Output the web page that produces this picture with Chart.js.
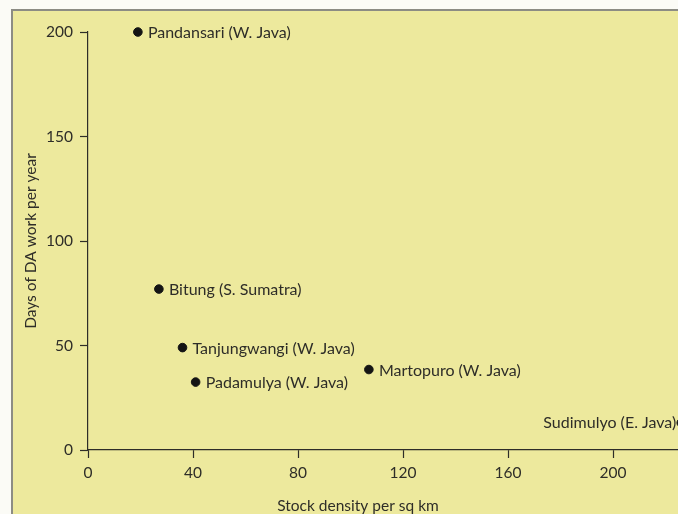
<!DOCTYPE html>
<html lang="en">
<head>
  <meta charset="UTF-8">
  <title>Days of DA work vs stock density</title>
  <script src="https://cdn.jsdelivr.net/npm/chart.js"></script>
  <style>
    html, body {
      margin: 0;
      padding: 0;
      background: #fbfbf6;
      width: 678px;
      height: 514px;
      overflow: hidden;
    }

    .page {
      position: absolute;
      left: 11px;
      top: 9px;
      width: 700px;
      height: 520px;
      background: #ede99d;
      border-left: 2px solid #8c8c84;
      border-top: 2px solid #8c8c84;
    }

    canvas {
      position: absolute;
      left: 0;
      top: 0;
    }
  </style>
</head>
<body>
  <div class="page"></div>
  <canvas id="scatter" width="760" height="514"></canvas>

  <script>
    const villages = ['Pandansari (W. Java)', 'Bitung (S. Sumatra)', 'Tanjungwangi (W. Java)',
                      'Padamulya (W. Java)', 'Martopuro (W. Java)', 'Sudimulyo (E. Java)'];
    const stockDensity = [19, 27, 36, 41, 107, 226];
    const daysWorked = [200, 77, 49, 32.5, 38.5, 13];
    const xTicks = [0, 40, 80, 120, 160, 200, 240];
    const yTicks = [0, 50, 100, 150, 200];

    const ink = '#2e2d28';
    const fontFamily = 'Lato, "Open Sans", sans-serif';

    // labels that sit to the left of their dot
    const labelLeft = ['Sudimulyo (E. Java)'];

    const pointLabels = {
      id: 'pointLabels',
      afterDatasetsDraw(chart) {
        const c = chart.ctx;
        const meta = chart.getDatasetMeta(0);
        c.save();
        c.fillStyle = ink;
        c.font = '16px ' + fontFamily;
        c.textBaseline = 'middle';
        meta.data.forEach((pt, i) => {
          const name = villages[i];
          if (labelLeft.includes(name)) {
            c.textAlign = 'right';
            c.fillText(name, pt.x - 5, pt.y);
          } else {
            c.textAlign = 'left';
            c.fillText(name, pt.x + 10, pt.y + 1);
          }
        });

        // axis titles
        const area = chart.chartArea;
        c.font = '15.5px ' + fontFamily;
        c.textAlign = 'center';
        c.fillText('Stock density per sq km', 358, 506);
        c.translate(31, (area.top + area.bottom) / 2);
        c.rotate(-Math.PI / 2);
        c.fillText('Days of DA work per year', 0, 0);
        c.restore();
      }
    };

    const tickFont = { family: fontFamily, size: 15.5 };

    new Chart(document.getElementById('scatter').getContext('2d'), {
      type: 'scatter',
      data: {
        datasets: [{
          data: stockDensity.map((x, i) => ({ x: x, y: daysWorked[i] })),
          backgroundColor: '#141414',
          borderColor: '#141414',
          pointRadius: 4.3,
          pointHoverRadius: 4.3,
          clip: false
        }]
      },
      options: {
        responsive: false,
        animation: false,
        layout: { padding: { top: 32, right: 42, bottom: 0, left: 0 } },
        plugins: {
          legend: { display: false },
          tooltip: { enabled: false }
        },
        scales: {
          x: {
            type: 'linear',
            min: 0,
            max: 240,
            afterFit: s => { s.height = 64; },
            afterBuildTicks: s => { s.ticks = xTicks.map(v => ({ value: v })); },
            grid: { drawOnChartArea: false, drawTicks: true, tickLength: 8, tickColor: ink, tickWidth: 1.2 },
            border: { display: true, color: ink, width: 1.2 },
            ticks: { color: ink, font: tickFont, padding: 6, maxRotation: 0 }
          },
          y: {
            type: 'linear',
            min: 0,
            max: 200,
            afterFit: s => { s.width = 88; },
            afterBuildTicks: s => { s.ticks = yTicks.map(v => ({ value: v })); },
            grid: { drawOnChartArea: false, drawTicks: true, tickLength: 8, tickColor: ink, tickWidth: 1.2 },
            border: { display: true, color: ink, width: 1.2 },
            ticks: { color: ink, font: tickFont, padding: 7 }
          }
        }
      },
      plugins: [pointLabels]
    });
  </script>
</body>
</html>
